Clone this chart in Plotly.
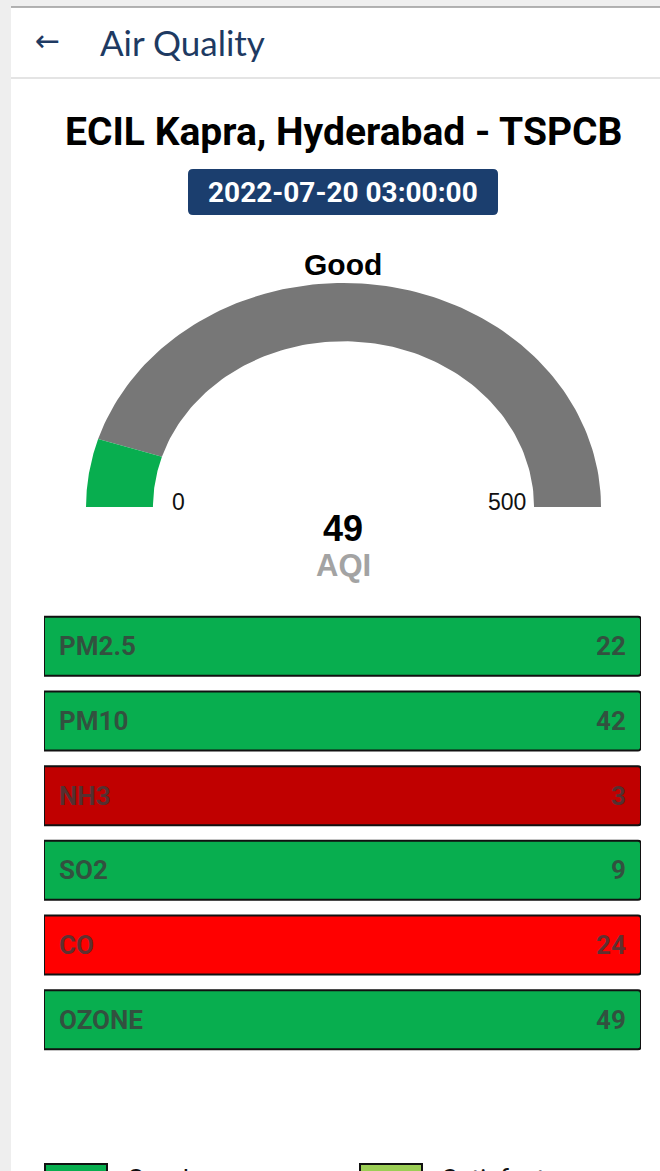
import numpy as np
import plotly.graph_objects as go

# ---------------- data ----------------
station = "ECIL Kapra, Hyderabad - TSPCB"
timestamp = "2022-07-20 03:00:00"
aqi_value = 49
aqi_min = 0
aqi_max = 500
aqi_category = "Good"

pollutants = ["PM2.5", "PM10", "NH3", "SO2", "CO", "OZONE"]
pollutant_values = [22, 42, 3, 9, 24, 49]
pollutant_colors = ["#08AE4F", "#08AE4F", "#C00000", "#08AE4F", "#FF0000", "#08AE4F"]

legend_labels = ["Good", "Satisfactory"]
legend_colors = ["#08AE4F", "#9BCE55"]

W, H = 660, 1171
GREEN = "#08AE4F"
GRAY = "#777777"
NAVY = "#1B3E6E"


def py(p):
    """pixel y -> paper y"""
    return 1 - p / H


def px(p):
    return p / W


fig = go.Figure()

# ---------------- gauge (elliptical half ring) ----------------
r_in = 0.74


def ring(v0, v1, n=120):
    t0 = np.pi * (1 - (v0 - aqi_min) / (aqi_max - aqi_min))
    t1 = np.pi * (1 - (v1 - aqi_min) / (aqi_max - aqi_min))
    th = np.linspace(t0, t1, n)
    xs = np.concatenate([np.cos(th), r_in * np.cos(th[::-1]), [np.cos(th[0])]])
    ys = np.concatenate([np.sin(th), r_in * np.sin(th[::-1]), [np.sin(th[0])]])
    return xs, ys


gx, gy = ring(aqi_value, aqi_max)
fig.add_trace(go.Scatter(x=gx, y=gy, xaxis="x2", yaxis="y2", mode="lines",
                         fill="toself", fillcolor=GRAY, line=dict(width=0, color=GRAY),
                         hoverinfo="skip", showlegend=False))
vx, vy = ring(aqi_min, aqi_value)
fig.add_trace(go.Scatter(x=vx, y=vy, xaxis="x2", yaxis="y2", mode="lines",
                         fill="toself", fillcolor=GREEN, line=dict(width=0, color=GREEN),
                         hoverinfo="skip", showlegend=False))

# ---------------- pollutant tiles ----------------
fig.add_trace(go.Bar(
    y=pollutants, x=[1] * len(pollutants), orientation="h",
    marker=dict(color=pollutant_colors, line=dict(color="#111111", width=2), cornerradius=3),
    hoverinfo="skip", showlegend=False, xaxis="x", yaxis="y",
))

TILE_FONT = dict(family="Roboto", size=26, color="rgba(60,60,60,0.82)")
annotations = []
for name, val in zip(pollutants, pollutant_values):
    annotations.append(dict(x=0, y=name, xref="x", yref="y", text=f"<b>{name}</b>",
                            showarrow=False, xanchor="left", yanchor="middle", xshift=13,
                            font=TILE_FONT))
    annotations.append(dict(x=1, y=name, xref="x", yref="y", text=f"<b>{val}</b>",
                            showarrow=False, xanchor="right", yanchor="middle", xshift=-13,
                            font=TILE_FONT))


def label(xp, yp, text, font, xanchor="center"):
    return dict(x=px(xp), y=py(yp), xref="paper", yref="paper", text=text, showarrow=False,
                xanchor=xanchor, yanchor="middle", font=font)


annotations += [
    label(47, 40, "←", dict(family="DejaVu Sans", size=30, color="#1E3A62")),
    label(98, 42, "Air Quality", dict(family="Lato", size=35, color="#1E3A62"), "left"),
    label(343, 132, f"<b>{station}</b>", dict(family="Roboto", size=39, color="#000000")),
    label(343, 192, f"<b>{timestamp}</b>", dict(family="Roboto", size=28, color="#FFFFFF")),
    label(343, 264, f"<b>{aqi_category}</b>", dict(family="Liberation Sans", size=30, color="#000000")),
    label(178, 502, str(aqi_min), dict(family="Liberation Sans", size=23, color="#111111")),
    label(507, 502, str(aqi_max), dict(family="Liberation Sans", size=23, color="#111111")),
    label(343, 528, f"<b>{aqi_value}</b>", dict(family="Liberation Sans", size=36, color="#000000")),
    label(343, 565, "<b>AQI</b>", dict(family="Liberation Sans", size=31, color="#A3A3A3")),
]

shapes = [
    # top status strip and left strip
    dict(type="rect", xref="paper", yref="paper", x0=0, x1=1, y0=py(7), y1=1,
         fillcolor="#EFEFEF", line=dict(width=0), layer="below"),
    dict(type="line", xref="paper", yref="paper", x0=px(11), x1=1, y0=py(7), y1=py(7),
         line=dict(color="#9A9A9A", width=1.5)),
    dict(type="rect", xref="paper", yref="paper", x0=0, x1=px(11), y0=0, y1=1,
         fillcolor="#EEEEEE", line=dict(width=0), layer="below"),
    # header bottom shadow
    dict(type="line", xref="paper", yref="paper", x0=px(11), x1=1, y0=py(78), y1=py(78),
         line=dict(color="#E4E4E4", width=2)),
    # date badge
    dict(type="path", xref="paper", yref="paper", layer="below",
         path=(f"M {px(193)},{py(169)} L {px(493)},{py(169)} Q {px(498)},{py(169)} {px(498)},{py(174)} "
               f"L {px(498)},{py(210)} Q {px(498)},{py(215)} {px(493)},{py(215)} "
               f"L {px(193)},{py(215)} Q {px(188)},{py(215)} {px(188)},{py(210)} "
               f"L {px(188)},{py(174)} Q {px(188)},{py(169)} {px(193)},{py(169)} Z"),
         fillcolor=NAVY, line=dict(width=0)),
]

# legend (partially visible at bottom edge, as in the reference)
legend_x = [45, 360]
for lx, lab, col in zip(legend_x, legend_labels, legend_colors):
    shapes.append(dict(type="rect", xref="paper", yref="paper", x0=px(lx), x1=px(lx + 62),
                       y0=py(1200), y1=py(1164), fillcolor=col, line=dict(color="#111111", width=2)))
    annotations.append(label(lx + 80, 1178.5, lab, dict(family="Roboto", size=26, color="#111111"), "left"))

hidden = dict(showgrid=False, zeroline=False, showticklabels=False, showline=False,
              fixedrange=True, ticks="")

fig.update_layout(
    width=W, height=H,
    margin=dict(l=0, r=0, t=0, b=0),
    paper_bgcolor="#FFFFFF", plot_bgcolor="rgba(0,0,0,0)",
    showlegend=False,
    bargap=0.21,
    xaxis=dict(domain=[px(44), px(641)], range=[0, 1], **hidden),
    yaxis=dict(domain=[py(1057), py(609)], autorange="reversed", **hidden),
    xaxis2=dict(domain=[px(86), px(601)], range=[-1, 1], anchor="y2", **hidden),
    yaxis2=dict(domain=[py(507), py(283)], range=[0, 1], anchor="x2", **hidden),
    annotations=annotations,
    shapes=shapes,
)

fig.write_html("out.html", config={"displayModeBar": False},
               post_script="document.body.style.margin='0';document.body.style.overflow='hidden';")
